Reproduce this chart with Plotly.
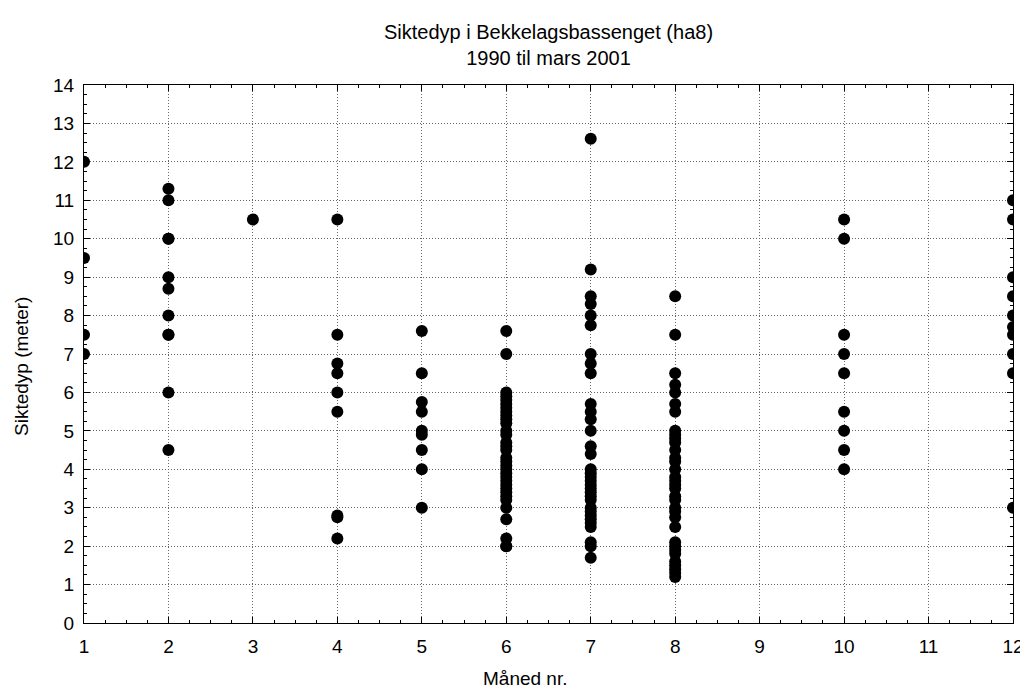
import plotly.graph_objects as go

# Siktedyp (meter) per måned
m1 = [12.0, 9.5, 7.5, 7.0]
m2 = [11.3, 11.0, 10.0, 10.0, 9.0, 8.7, 8.0, 7.5, 7.5, 6.0, 4.5]
m3 = [10.5]
m4 = [10.5, 7.5, 6.75, 6.5, 6.0, 5.5, 2.8, 2.75, 2.2]
m5 = [7.6, 6.5, 5.75, 5.5, 5.0, 4.9, 4.5, 4.0, 3.0]
m6 = [7.6, 7.0, 6.0, 5.9, 5.8, 5.7, 5.6, 5.5, 5.4, 5.3, 5.2, 5.0, 4.9, 4.7, 4.6,
      4.5, 4.3, 4.2, 4.1, 4.0, 3.9, 3.8, 3.7, 3.6, 3.5, 3.4, 3.3, 3.2, 3.0, 2.7,
      2.2, 2.0, 2.0]
m7 = [12.6, 9.2, 8.5, 8.3, 8.0, 7.75, 7.0, 6.75, 6.5, 5.7, 5.5, 5.3, 5.0,
      4.6, 4.4, 4.0, 3.9, 3.8, 3.7, 3.6, 3.5, 3.4, 3.3, 3.2, 3.0, 2.9, 2.8,
      2.7, 2.6, 2.5, 2.1, 2.0, 1.7]
m8 = [8.5, 7.5, 6.5, 6.2, 6.0, 5.7, 5.5, 5.0, 4.9, 4.8, 4.7, 4.5, 4.3, 4.2,
      4.0, 3.8, 3.7, 3.6, 3.5, 3.3, 3.2, 3.0, 2.9, 2.75, 2.5, 2.1, 2.0, 1.9,
      1.8, 1.6, 1.5, 1.4, 1.3, 1.2]
m10 = [10.5, 10.0, 7.5, 7.0, 6.5, 5.5, 5.0, 4.5, 4.0]
m12 = [11.0, 10.5, 9.0, 8.5, 8.0, 7.7, 7.5, 7.0, 6.5, 3.0]

months = [1, 2, 3, 4, 5, 6, 7, 8, 10, 12]
values = [m1, m2, m3, m4, m5, m6, m7, m8, m10, m12]

xs, ys = [], []
for m, vals in zip(months, values):
    xs += [m] * len(vals)
    ys += vals

FONT = "Liberation Sans, Arial"

fig = go.Figure(go.Scatter(
    x=xs, y=ys, mode="markers",
    marker=dict(color="black", size=12, line=dict(width=0)),
    cliponaxis=True, showlegend=False,
))

axis_common = dict(
    automargin=False,
    showline=True, linecolor="black", linewidth=1, mirror="allticks",
    ticks="inside", ticklen=6, tickcolor="black",
    showgrid=True, gridcolor="#666666", griddash="1px,2px", gridwidth=1,
    zeroline=False,
    tickfont=dict(family=FONT, size=19, color="black"),
    minor=dict(dtick=0.25, ticks="inside", ticklen=3, tickcolor="black", showgrid=False),
)

fig.update_layout(
    width=1020, height=680,
    paper_bgcolor="white", plot_bgcolor="white",
    margin=dict(l=76, r=15, t=77, b=65),
    font=dict(family=FONT, size=19, color="black"),
    title=dict(
        text="Siktedyp i Bekkelagsbassenget (ha8)<br>1990 til mars 2001",
        x=0.5, xref="paper", xanchor="center",
        y=0.955, yref="container", yanchor="top",
        font=dict(family=FONT, size=20, color="black"),
    ),
    xaxis=dict(range=[1, 12], dtick=1, tick0=1, ticklabelstandoff=6, **axis_common),
    yaxis=dict(range=[0, 14], dtick=1, tick0=0, ticklabelstandoff=5, **axis_common),
    annotations=[
        dict(text="Måned nr.", xref="paper", yref="paper", x=0.475, y=-0.104,
             xanchor="center", yanchor="middle", showarrow=False,
             font=dict(family=FONT, size=19, color="black")),
        dict(text="Siktedyp (meter)", xref="paper", yref="paper", x=-0.0667, y=0.476,
             xanchor="center", yanchor="middle", textangle=-90, showarrow=False,
             font=dict(family=FONT, size=19, color="black")),
    ],
)

fig.write_html("out.html")
